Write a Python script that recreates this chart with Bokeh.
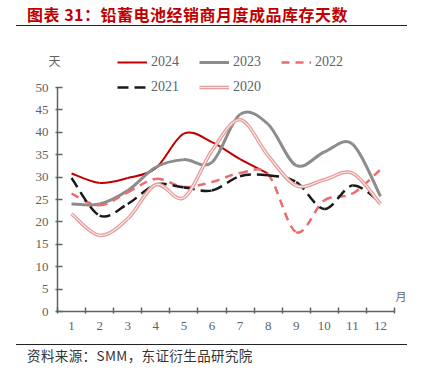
from bokeh.plotting import figure
from bokeh.models import (Range1d, FixedTicker, Legend, LegendItem, Label, Div,
                          ColumnDataSource, LinearAxis)
from bokeh.layouts import column
from bokeh.embed import file_html
from bokeh.resources import INLINE

months = [1, 2, 3, 4, 5, 6, 7, 8, 9, 10, 11, 12]
y2024 = [30.8, 28.7, 29.8, 32.0, 39.7, 37.8, 34.0, 30.8]
y2023 = [24.0, 24.0, 27.0, 32.2, 33.9, 33.3, 44.0, 41.8, 32.6, 35.6, 37.4, 25.7]
y2022 = [26.3, 23.7, 26.6, 29.6, 27.8, 28.9, 30.9, 30.6, 17.7, 24.8, 26.3, 31.7]
y2021 = [29.8, 21.4, 24.0, 28.3, 27.7, 27.0, 30.2, 30.4, 28.9, 22.9, 28.1, 24.4]
y2020 = [21.8, 17.0, 20.7, 28.3, 25.4, 35.9, 42.8, 34.8, 28.1, 29.4, 30.9, 24.0]
y_ticks = [0, 5, 10, 15, 20, 25, 30, 35, 40, 45, 50]
unit_pos = 56.0  # where the "天" unit label sits on the value scale

SERIF = "Liberation Serif"
CJK = "Noto Sans CJK SC"
GRAY = "#5f6363"


def bezier_source(xs, ys):
    n = len(ys)
    xs = xs[:n]
    d = dict(x0=[], y0=[], x1=[], y1=[], cx0=[], cy0=[], cx1=[], cy1=[])
    for i in range(n - 1):
        pxm, pym = (xs[i - 1], ys[i - 1]) if i > 0 else (xs[i], ys[i])
        pxp, pyp = (xs[i + 2], ys[i + 2]) if i + 2 < n else (xs[i + 1], ys[i + 1])
        d["x0"].append(xs[i]); d["y0"].append(ys[i])
        d["x1"].append(xs[i + 1]); d["y1"].append(ys[i + 1])
        d["cx0"].append(xs[i] + (xs[i + 1] - pxm) / 6)
        d["cy0"].append(ys[i] + (ys[i + 1] - pym) / 6)
        d["cx1"].append(xs[i + 1] - (pxp - xs[i]) / 6)
        d["cy1"].append(ys[i + 1] - (pyp - ys[i]) / 6)
    return ColumnDataSource(d)


# figure at page (0,28), 421x314; frame spans page x 55..412 and y 45..313
# data 0.5..12.5 -> x 57..394, 0..50 -> y 311..87
PX_X = 337 / 12.0
PX_Y = 224 / 50.0
x_start = months[0] - 0.5
x_end = months[-1] + 0.5
x_lo = x_start - 2 / PX_X
x_hi = x_end + 18 / PX_X
y_lo = -2 / PX_Y
y_hi = 266 / PX_Y

p = figure(width=421, height=314, x_range=Range1d(x_lo, x_hi), y_range=Range1d(y_lo, y_hi),
           output_backend="svg", toolbar_location=None, margin=0,
           min_border_left=55, min_border_right=9, min_border_top=17, min_border_bottom=29)
p.outline_line_color = None
p.grid.visible = False
p.background_fill_color = "white"

# axis lines (from the category span and the value tick span)
p.segment(x0=[x_start, x_start], y0=[y_ticks[0], y_ticks[0]],
          x1=[x_end, x_start], y1=[y_ticks[0], y_ticks[-1]],
          line_color=GRAY, line_width=1.5)

bz = dict(x0="x0", y0="y0", x1="x1", y1="y1", cx0="cx0", cy0="cy0", cx1="cx1", cy1="cy1")

r24 = p.bezier(source=bezier_source(months, y2024), line_color="#c00000", line_width=2, **bz)
r23 = p.bezier(source=bezier_source(months, y2023), line_color="#8c8c8c", line_width=3, **bz)
r22 = p.bezier(source=bezier_source(months, y2022), line_color="#ec6b6b", line_width=2.5,
               line_dash="8 6", **bz)
r21 = p.bezier(source=bezier_source(months, y2021), line_color="#1a1a1a", line_width=2.5,
               line_dash="11 6", **bz)
s20 = bezier_source(months, y2020)
r20a = p.bezier(source=s20, line_color="#e39a9a", line_width=3.6, **bz)
r20b = p.bezier(source=s20, line_color="#fbe8e8", line_width=1.2, **bz)

# x axis (labels + category boundary ticks)
xa = p.xaxis[0]
xa.ticker = FixedTicker(ticks=months, minor_ticks=[m - 0.5 for m in months] + [x_end])
xa.axis_line_color = None
xa.major_tick_in = 0
xa.major_tick_out = 0
xa.minor_tick_in = 6
xa.minor_tick_out = 0
xa.minor_tick_line_color = GRAY
xa.minor_tick_line_width = 1.5
xa.major_label_standoff = 8
xa.major_label_text_font = SERIF
xa.major_label_text_font_size = "13px"
xa.major_label_text_color = GRAY

# y axis
ya = p.yaxis[0]
ya.ticker = FixedTicker(ticks=y_ticks)
ya.axis_line_color = None
ya.major_tick_in = 7
ya.major_tick_out = 0
ya.minor_tick_line_color = None
ya.major_tick_line_color = GRAY
ya.major_tick_line_width = 1.5
ya.major_label_standoff = 7
ya.major_label_text_font = SERIF
ya.major_label_text_font_size = "13px"
ya.major_label_text_color = GRAY

# unit label "天" carried by a second, line-less left axis
yu = LinearAxis(ticker=FixedTicker(ticks=[unit_pos]), major_label_overrides={unit_pos: "天"})
yu.axis_line_color = None
yu.major_tick_line_color = None
yu.minor_tick_line_color = None
yu.major_label_standoff = -34
yu.major_label_text_font = CJK
yu.major_label_text_font_size = "12px"
yu.major_label_text_color = GRAY
p.add_layout(yu, "left")

p.add_layout(Label(x=x_end, y=y_ticks[0], text="月", x_offset=1, y_offset=8, text_align="left",
                   text_baseline="bottom", text_font=CJK, text_font_size="11px",
                   text_color=GRAY))


def make_legend(items, loc):
    lg = Legend(items=items, orientation="horizontal", location=loc)
    lg.glyph_width = 30
    lg.glyph_height = 20
    lg.label_height = 20
    lg.label_standoff = 4
    lg.spacing = 20
    lg.padding = 0
    lg.margin = 0
    lg.border_line_color = None
    lg.background_fill_alpha = 0
    lg.label_text_font = SERIF
    lg.label_text_font_size = "14px"
    lg.label_text_color = GRAY
    return lg


leg1 = make_legend([
    LegendItem(label="2024", renderers=[r24]),
    LegendItem(label="2023", renderers=[r23]),
    LegendItem(label="2022", renderers=[r22]),
], (62, 241))
leg2 = make_legend([
    LegendItem(label="2021", renderers=[r21]),
    LegendItem(label="2020", renderers=[r20a, r20b]),
], (62, 216))
p.add_layout(leg1, "center")
p.add_layout(leg2, "center")

title = Div(width=421, height=28, margin=0, text=(
    "<div style=\"margin-left:16px;width:391px;height:26px;border-bottom:1.5px solid #222;"
    "padding-left:11px;font-family:'Noto Sans CJK SC';font-weight:bold;font-size:16px;"
    "letter-spacing:0.5px;line-height:28px;color:#c00000;white-space:nowrap\">"
    "图表 31：铅蓄电池经销商月度成品库存天数</div>"))
source = Div(width=421, height=36, margin=0, text=(
    "<div style=\"margin-left:16px;margin-top:2px;width:391px;border-top:1.5px solid #222;"
    "padding-left:11px;font-family:'Noto Sans CJK SC';font-size:13.5px;letter-spacing:0.4px;"
    "line-height:20px;color:#333;white-space:nowrap\">资料来源：SMM，东证衍生品研究院</div>"))

layout = column(title, p, source, spacing=0)
open("out.html", "w").write(file_html(layout, INLINE))
